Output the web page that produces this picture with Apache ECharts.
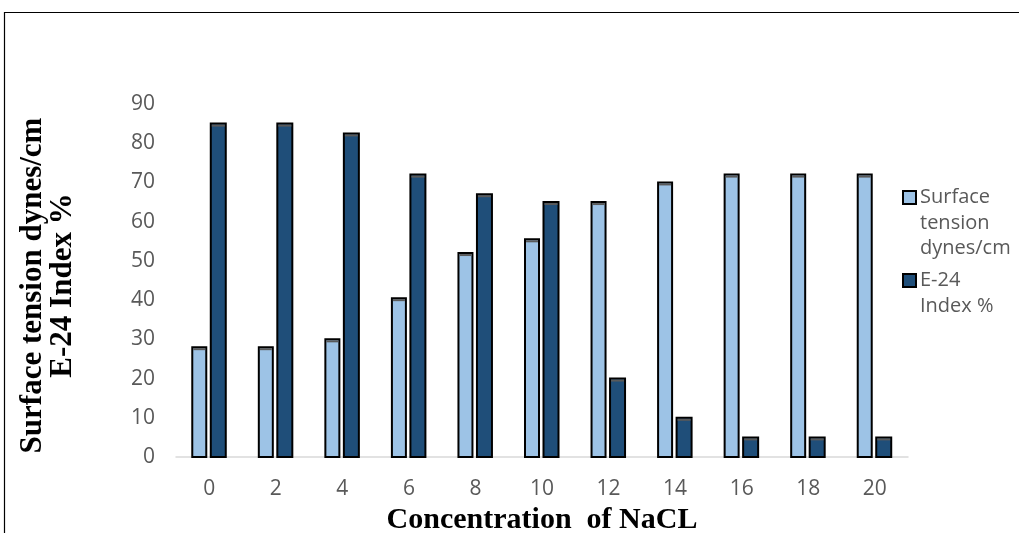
<!DOCTYPE html>
<html>
<head>
<meta charset="utf-8">
<title>Surface tension and E-24 index vs NaCl concentration</title>
<script src="https://cdn.jsdelivr.net/npm/echarts@6/dist/echarts.min.js"></script>
<style>
  html, body { margin: 0; padding: 0; background: #fff; overflow: hidden; }
  #chart { width: 1019px; height: 533px; }
</style>
</head>
<body>
<div id="chart"></div>
<script>
// NaCl concentration steps on the category axis
const categories = ['0', '2', '4', '6', '8', '10', '12', '14', '16', '18', '20'];
// Surface tension (dynes/cm) at each concentration
const surfaceTension = [28, 28, 30, 40.5, 52, 55.5, 65, 70, 72, 72, 72];
// Emulsification index E-24 (%) at each concentration
const e24Index = [85, 85, 82.5, 72, 67, 65, 20, 10, 5, 5, 5];
// Value axis range
const yMin = 0;
const yMax = 90;
const yStep = 10;

const seriesNames = ['Surface tension dynes/cm', 'E-24 Index %'];
const lightBlue = '#9dc3e6';
const darkBlue = '#1f4e79';

// Column with a black outline and a thin grey cap on top
function columnRenderer(offset, innerWidth, fill) {
  return function (params, api) {
    const top = api.coord([api.value(0), api.value(1)]);
    const base = api.coord([api.value(0), 0]);
    const x = top[0] + offset - innerWidth / 2;
    return {
      type: 'group',
      children: [
        {
          type: 'rect',
          shape: { x: x, y: top[1], width: innerWidth, height: base[1] - top[1] },
          style: { fill: fill, stroke: '#000', lineWidth: 2 }
        },
        {
          type: 'rect',
          shape: { x: x + 1, y: top[1] + 1, width: innerWidth - 2, height: 2 },
          style: { fill: '#5a5a5a' }
        }
      ]
    };
  };
}

const chart = echarts.init(document.getElementById('chart'), null, { renderer: 'canvas' });

const labelFont = "'Open Sans', 'Liberation Sans', sans-serif";
const titleFont = "'Liberation Serif', 'Times New Roman', serif";

chart.setOption({
  animation: false,
  backgroundColor: '#fff',
  grid: { left: 176, width: 732, top: 104, height: 353, outerBoundsMode: 'none', containLabel: false },
  xAxis: {
    type: 'category',
    data: categories,
    boundaryGap: true,
    axisLine: { show: true, lineStyle: { color: '#d9d9d9', width: 1.5 } },
    axisTick: { show: false },
    axisLabel: { color: '#595959', fontFamily: labelFont, fontSize: 21, margin: 22 },
    name: 'Concentration  of NaCL',
    nameLocation: 'middle',
    nameGap: 62,
    nameTextStyle: {
      color: '#000', fontFamily: titleFont, fontWeight: 'bold', fontSize: 30,
      verticalAlign: 'middle', align: 'center'
    }
  },
  yAxis: {
    type: 'value',
    min: yMin,
    max: yMax,
    interval: yStep,
    axisLine: { show: false },
    axisTick: { show: false },
    splitLine: { show: false },
    axisLabel: { color: '#595959', fontFamily: labelFont, fontSize: 21, margin: 21 },
    name: 'Surface tension dynes/cm\nE-24 Index %',
    nameLocation: 'middle',
    nameRotate: 90,
    nameGap: 128,
    nameTextStyle: {
      color: '#000', fontFamily: titleFont, fontWeight: 'bold', fontSize: 31,
      lineHeight: 30, verticalAlign: 'middle', align: 'center',
      padding: [0, 10, 0, 0]
    }
  },
  series: [
    {
      name: seriesNames[0],
      type: 'custom',
      renderItem: columnRenderer(-10, 14, lightBlue),
      encode: { x: 0, y: 1 },
      data: surfaceTension.map((v, i) => [i, v])
    },
    {
      name: seriesNames[1],
      type: 'custom',
      renderItem: columnRenderer(9, 15, darkBlue),
      encode: { x: 0, y: 1 },
      data: e24Index.map((v, i) => [i, v])
    }
  ],
  graphic: [
    // figure frame: top and left edges
    {
      type: 'polyline', silent: true,
      shape: { points: [[4.5, 540], [4.5, 12.5], [1030, 12.5]] },
      style: { fill: 'none', stroke: '#000', lineWidth: 1.2 }
    },
    // legend key: surface tension
    {
      type: 'rect', silent: true,
      shape: { x: 903, y: 191, width: 13, height: 13 },
      style: { fill: lightBlue, stroke: '#000', lineWidth: 2 }
    },
    {
      type: 'text', silent: true, x: 920, y: 185,
      style: {
        text: 'Surface\ntension\ndynes/cm', fill: '#595959',
        font: "20px 'Open Sans', sans-serif", lineHeight: 25.5,
        verticalAlign: 'top', align: 'left'
      }
    },
    // legend key: E-24 index
    {
      type: 'rect', silent: true,
      shape: { x: 903, y: 274, width: 13, height: 13 },
      style: { fill: darkBlue, stroke: '#000', lineWidth: 2 }
    },
    {
      type: 'text', silent: true, x: 920, y: 268,
      style: {
        text: 'E-24\nIndex %', fill: '#595959',
        font: "20px 'Open Sans', sans-serif", lineHeight: 25.5,
        verticalAlign: 'top', align: 'left'
      }
    }
  ]
});
</script>
</body>
</html>
